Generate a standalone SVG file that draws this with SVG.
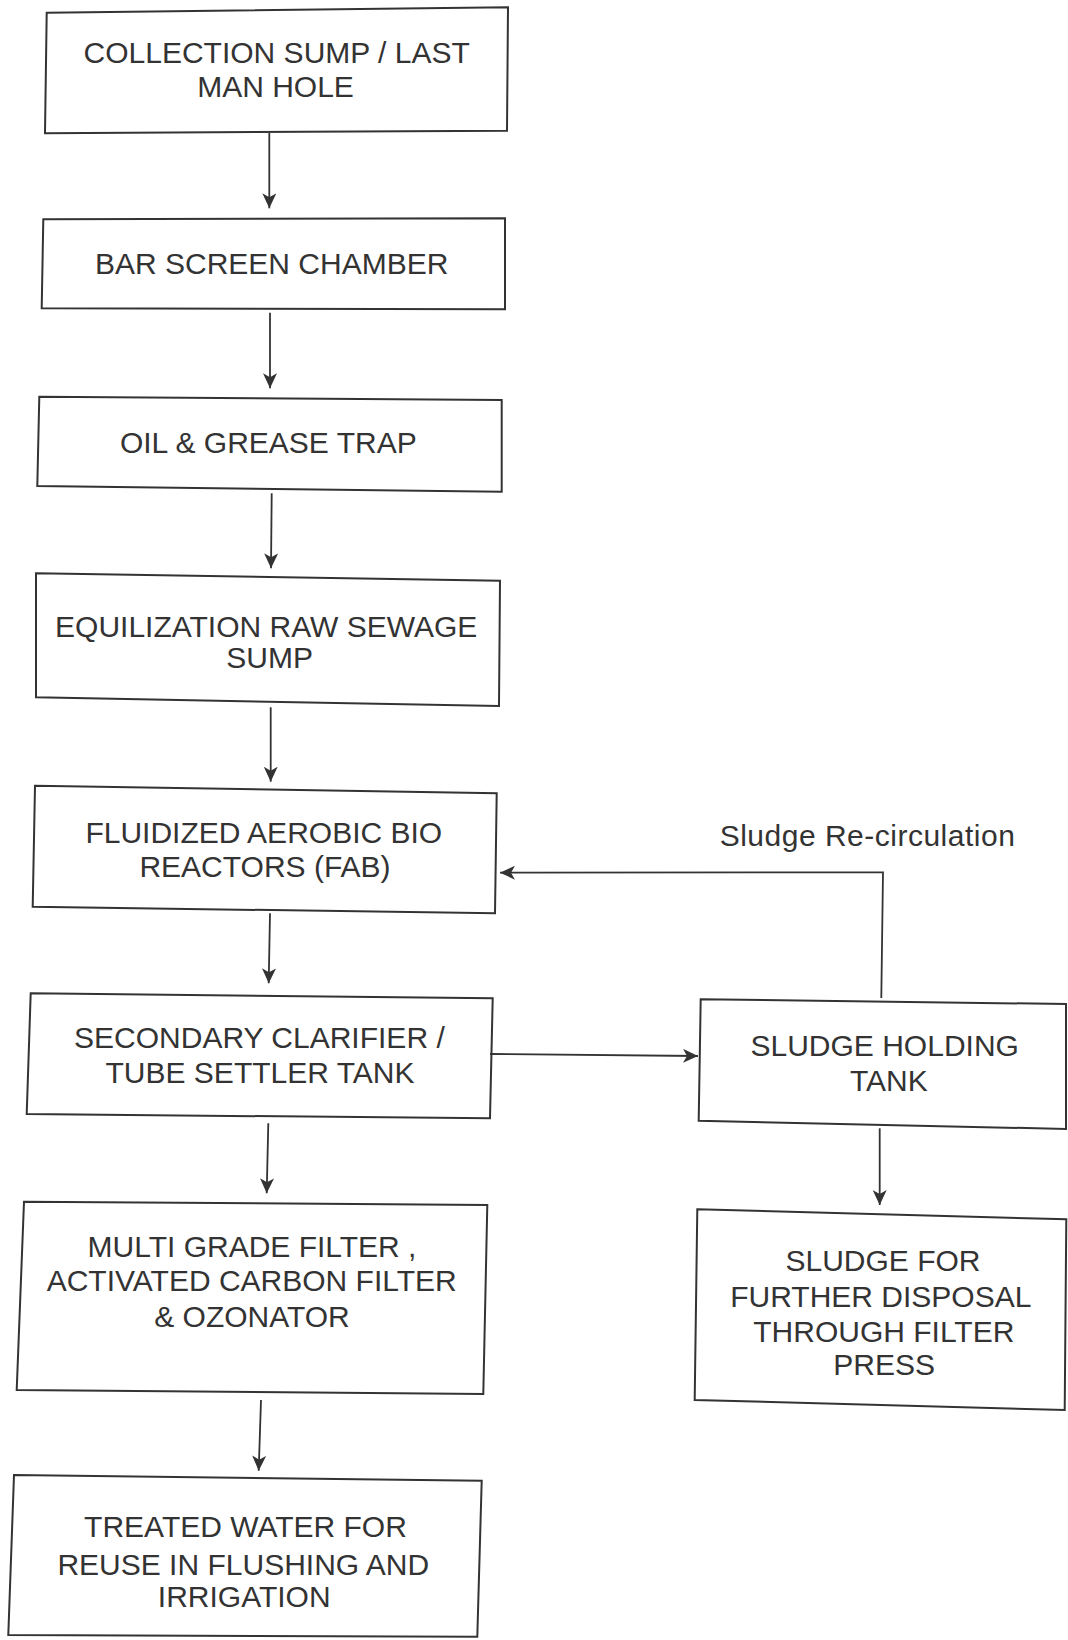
<svg xmlns="http://www.w3.org/2000/svg" width="1068" height="1640" viewBox="0 0 1068 1640">
<style>
.box{fill:none;stroke:#333;stroke-width:2;stroke-linejoin:miter}
.t{font-family:"Liberation Sans",Arial,sans-serif;font-size:30px;fill:#333;text-anchor:middle}
.lbl{font-family:"Liberation Sans",Arial,sans-serif;font-size:30px;fill:#333;letter-spacing:0.5px}
.c{fill:none;stroke:#333;stroke-width:1.8}
.ca{fill:none;stroke:#333;stroke-width:1.8;marker-end:url(#ah)}
</style>
<defs>
<marker id="ah" viewBox="0 0 16 14" refX="15" refY="7" markerWidth="16" markerHeight="14" markerUnits="userSpaceOnUse" orient="auto">
<path d="M0,0 L15,7 L0,14 L4,7 Z" fill="#333"/>
</marker>
</defs>
<rect width="1068" height="1640" fill="#fff"/>
<g id="connectors">
<line class="ca" x1="269.3" y1="133" x2="269.3" y2="208.3"/>
<line class="ca" x1="270" y1="312.7" x2="270" y2="388.3"/>
<line class="ca" x1="271.7" y1="493.3" x2="271" y2="568.3"/>
<line class="ca" x1="270.7" y1="707.3" x2="270.7" y2="781.7"/>
<line class="ca" x1="270" y1="913.3" x2="268.7" y2="983.3"/>
<line class="ca" x1="268.3" y1="1123.3" x2="266.7" y2="1193.3"/>
<line class="ca" x1="261" y1="1400" x2="258.7" y2="1470.7"/>
<line class="ca" x1="490" y1="1054" x2="698" y2="1056"/>
<line class="ca" x1="879.7" y1="1128.3" x2="879.7" y2="1205"/>
<polyline class="ca" points="881.3,998 883,872.3 500,872.7"/>
<text class="lbl" x="719.7" y="846">Sludge Re-circulation</text>
</g>
<g id="collection-sump">
<polygon class="box" points="46.7,12.7 508,7.3 507,130.7 45,133.3"/>
<text class="t" x="276.7" y="63.3">COLLECTION SUMP / LAST</text>
<text class="t" x="275.5" y="96.7">MAN HOLE</text>
</g>
<g id="bar-screen">
<polygon class="box" points="43.3,219.3 505,218.3 505,309.3 41.7,308.3"/>
<text class="t" x="271.7" y="274">BAR SCREEN CHAMBER</text>
</g>
<g id="oil-grease">
<polygon class="box" points="39.3,396.7 501.7,400 501.7,491.7 37.3,486"/>
<text class="t" x="268.3" y="453.3">OIL &amp; GREASE TRAP</text>
</g>
<g id="equalization">
<polygon class="box" points="36,573.3 500,580.7 499,706 36,697.3"/>
<text class="t" x="266.2" y="637.3">EQUILIZATION RAW SEWAGE</text>
<text class="t" x="269.7" y="668.3">SUMP</text>
</g>
<g id="fab">
<polygon class="box" points="35,785.7 496.7,793.3 495,913.3 32.7,906.7"/>
<text class="t" x="263.8" y="842.7">FLUIDIZED AEROBIC BIO</text>
<text class="t" x="265" y="877.3">REACTORS (FAB)</text>
</g>
<g id="secondary-clarifier">
<polygon class="box" points="30.7,993.3 492.7,998.3 490,1118.3 26.7,1114"/>
<text class="t" x="259.4" y="1048">SECONDARY CLARIFIER /</text>
<text class="t" x="260" y="1083.3">TUBE SETTLER TANK</text>
</g>
<g id="filters">
<polygon class="box" points="24,1201.7 487.3,1205 483.3,1394 16.7,1390"/>
<text class="t" x="252" y="1256.7">MULTI GRADE FILTER ,</text>
<text class="t" x="251.7" y="1290.7">ACTIVATED CARBON FILTER</text>
<text class="t" x="252" y="1326.7">&amp; OZONATOR</text>
</g>
<g id="treated-water">
<polygon class="box" points="14,1475 481.7,1480.7 477.3,1636.7 8.3,1635"/>
<text class="t" x="245.5" y="1536.7">TREATED WATER FOR</text>
<text class="t" x="243.3" y="1575">REUSE IN FLUSHING AND</text>
<text class="t" x="244.2" y="1606.7">IRRIGATION</text>
</g>
<g id="sludge-holding">
<polygon class="box" points="700.7,999.3 1066,1004 1066,1129 698.7,1120.7"/>
<text class="t" x="884.7" y="1056">SLUDGE HOLDING</text>
<text class="t" x="888.8" y="1090.7">TANK</text>
</g>
<g id="sludge-disposal">
<polygon class="box" points="697.3,1209.3 1066.3,1219.3 1064.7,1410 694.7,1400"/>
<text class="t" x="883" y="1270.7">SLUDGE FOR</text>
<text class="t" x="880.8" y="1306.7">FURTHER DISPOSAL</text>
<text class="t" x="883.8" y="1341.7">THROUGH FILTER</text>
<text class="t" x="884.2" y="1375">PRESS</text>
</g>
</svg>
